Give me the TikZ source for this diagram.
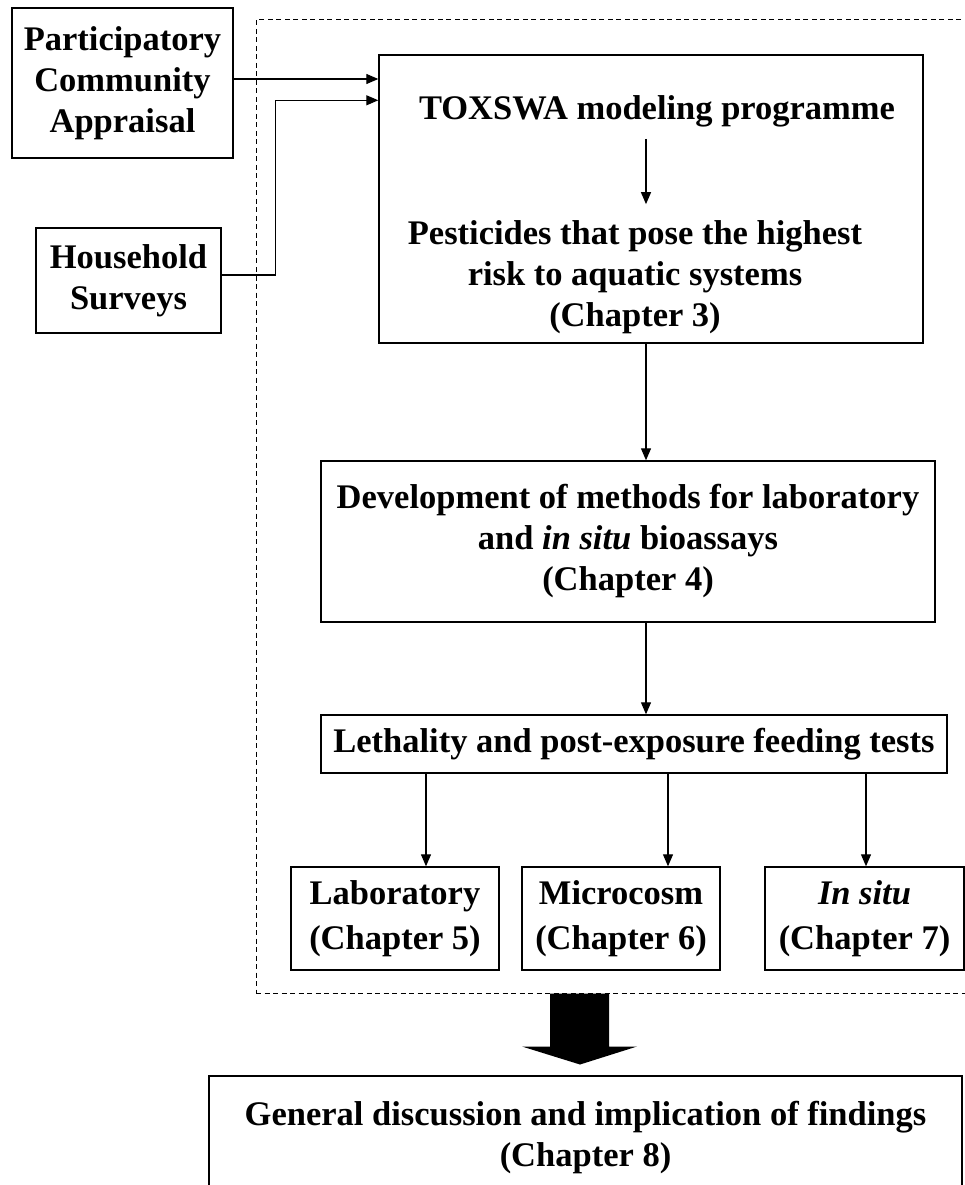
\documentclass[tikz,border=0pt]{standalone}
\usepackage{fontspec}
\setmainfont{Liberation Serif}
\usetikzlibrary{arrows.meta, positioning, calc}

\begin{document}
\begin{tikzpicture}[x=1pt, y=-1pt,
    box/.style={draw, line width=1.4pt, rectangle, inner sep=0pt, align=center, font=\fontsize{34.5}{41}\selectfont\bfseries},
    txt/.style={inner sep=0pt, align=center, font=\fontsize{34.5}{41}\selectfont\bfseries},
    chap/.style={box, minimum height=103pt, font=\fontsize{34.5}{45}\selectfont\bfseries},
    link/.style={-{Triangle[length=12pt,width=10pt]}, line width=1.2pt}]
    \useasboundingbox (0,0) rectangle (965,1185);
    \clip (0,0) rectangle (965,1185);

    \node[draw, dash pattern=on 5pt off 3.5pt, line width=1pt, inner sep=0pt, minimum width=784pt, minimum height=973pt] (frame) at (648,506.5) {};
    \node[box, minimum width=221pt, minimum height=150pt] (pca) at (122.5,83) {Participatory\\Community\\Appraisal};
    \node[box, minimum width=185pt, minimum height=105pt] (hhs) at (128.5,280.5) {Household\\Surveys};
    \node[box, minimum width=544pt, minimum height=288pt] (tox) at (651,199) {};
    \node[txt] (model) at (657,111) {TOXSWA modeling programme};
    \node[txt] (pest) at (635,277) {Pesticides that pose the highest\\risk to aquatic systems\\(Chapter 3)};
    \node[box, minimum width=614pt, minimum height=161pt] (dev) at (628,541.5) {Development of methods for laboratory\\and \textit{in situ} bioassays\\(Chapter 4)};
    \node[box, minimum width=626pt, minimum height=58pt] (leth) at (634,744) {Lethality and post-exposure feeding tests};
    \node[chap, minimum width=208pt] (lab) at (395,918.5) {Laboratory\\(Chapter 5)};
    \node[chap, minimum width=198pt] (micro) at (621,918.5) {Microcosm\\(Chapter 6)};
    \node[chap, minimum width=199pt] (insitu) at (864.5,918.5) {\textit{In situ}\\(Chapter 7)};
    \node[box, minimum width=753pt, minimum height=124pt] (final) at (585.5,1138) {General discussion and implication of findings\\(Chapter 8)};
    \coordinate (spine) at (646,0);

    \draw[link] ([yshift=4pt]pca.east) -- ([yshift=4pt]pca.east -| tox.west);
    \draw[link] ([yshift=5.5pt]hhs.east) -- ++(54,0) |- ([yshift=-46pt]tox.north west);
    \draw[link, shorten <=12pt, shorten >=16pt] (model.south -| spine) -- (pest.north -| spine);
    \draw[link] (tox.south -| spine) -- (dev.north -| spine);
    \draw[link] (dev.south -| spine) -- (leth.north -| spine);
    \foreach \b/\dx in {lab/31, micro/47, insitu/1.5}
        \draw[link] ([xshift=\dx pt]\b.north |- leth.south) -- ([xshift=\dx pt]\b.north);

    \path ([xshift=-5.5pt]frame.south -| final.north) coordinate (fattop);
    \fill ([xshift=-30pt]fattop) -- ++(59,0) -- ++(0,53) -- ++(28,0) -- ++(-57,18) -- ++(-58,-18) -- ++(28,0) -- cycle;
\end{tikzpicture}
\end{document}
